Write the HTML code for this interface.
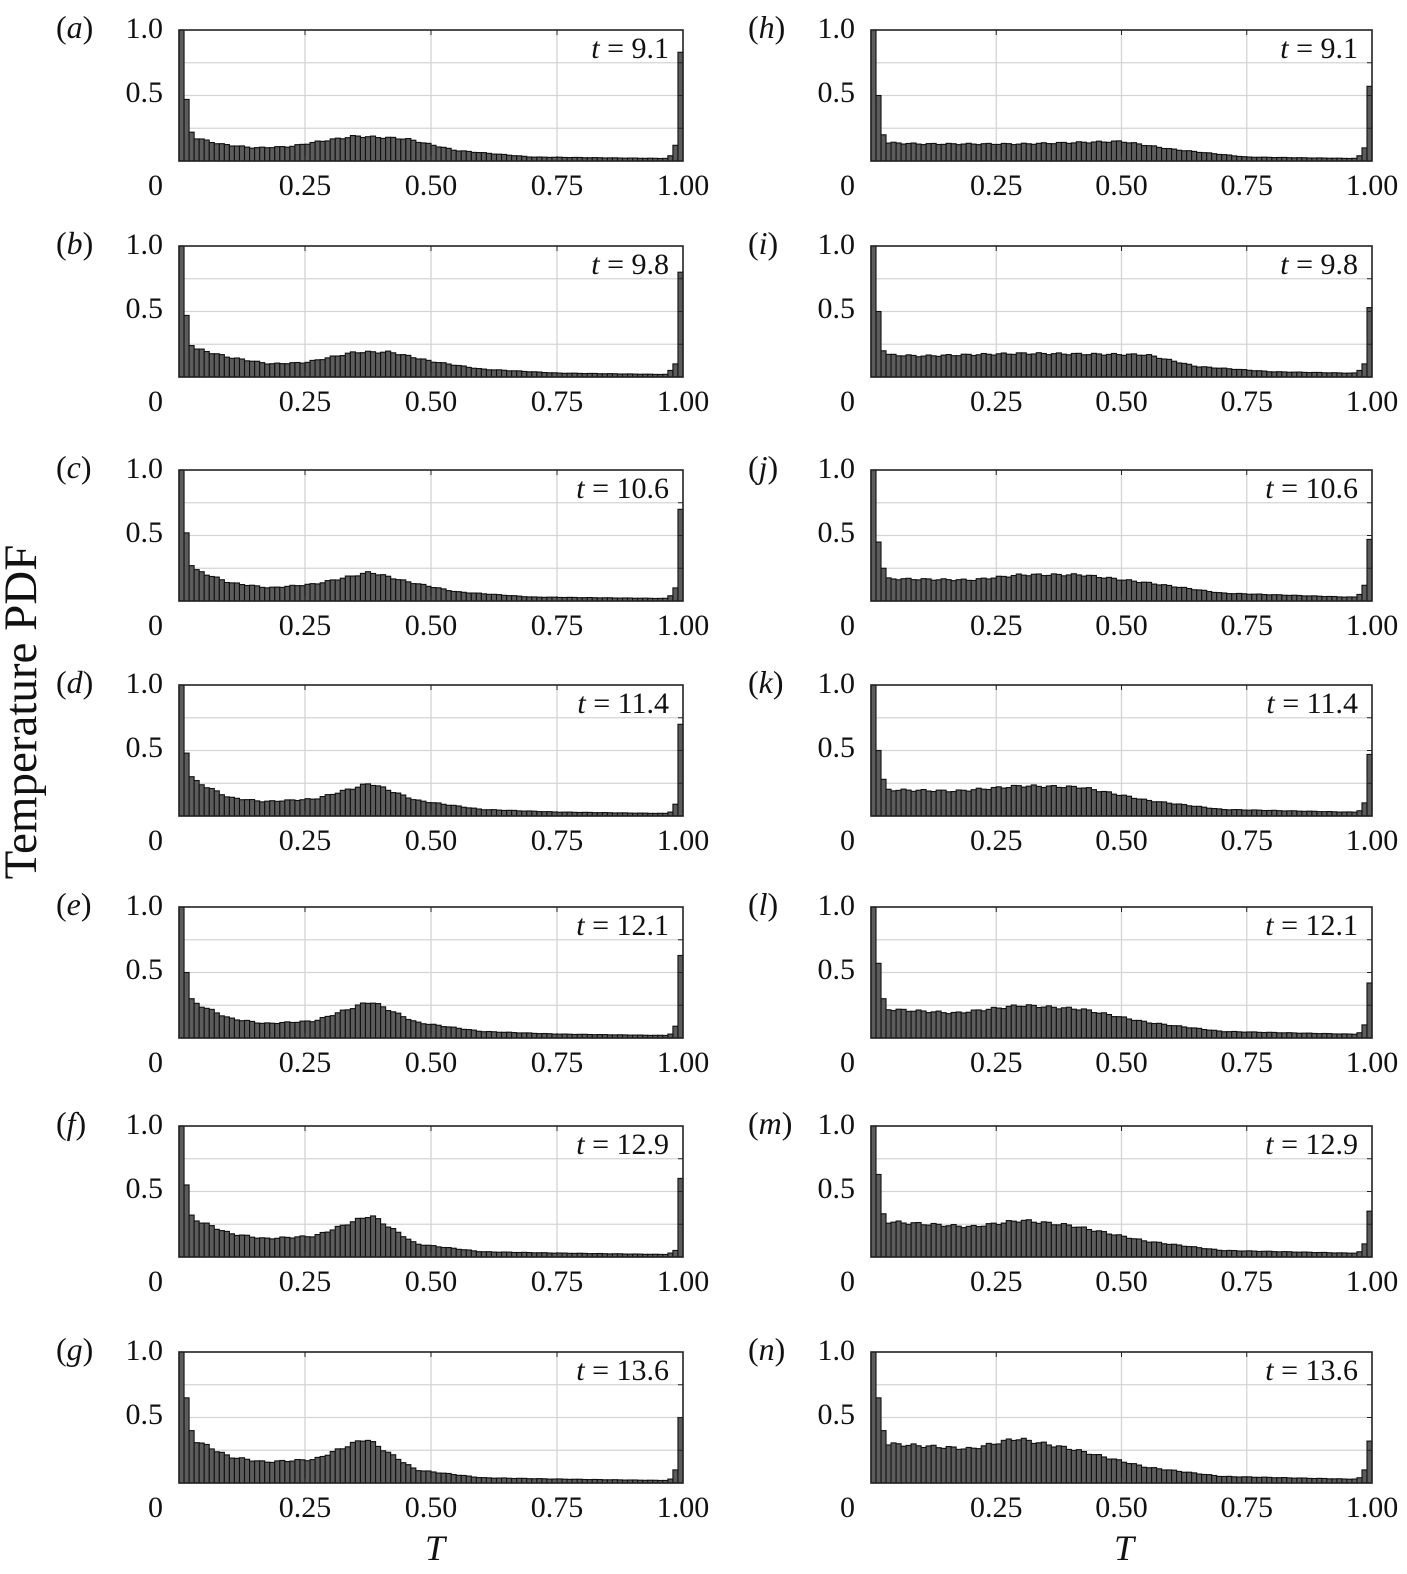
<!DOCTYPE html>
<html><head><meta charset="utf-8">
<style>
html,body{margin:0;padding:0;background:#fff;}
svg{display:block;font-family:"Liberation Serif","Times New Roman",serif;}
</style></head>
<body>
<svg id="s" width="1407" height="1574" xmlns="http://www.w3.org/2000/svg">
<text x="0" y="0" transform="translate(36,712) rotate(-90)" text-anchor="middle" font-size="47" fill="#111">Temperature PDF</text>
<text x="435" y="1560" text-anchor="middle" font-size="36" font-style="italic" fill="#111">T</text>
<text x="1124" y="1560" text-anchor="middle" font-size="36" font-style="italic" fill="#111">T</text>
</svg>
<script>
var P=[
{l:'a',t:'9.1',s:[1.0,0.47,0.22],p:[[0.03,0.18],[0.08,0.13],[0.15,0.1],[0.22,0.11],[0.28,0.15],[0.35,0.19],[0.45,0.17],[0.55,0.08],[0.7,0.03],[0.95,0.02],[1,0.02]],e:[0.04,0.12,0.83]},
{l:'b',t:'9.8',s:[1.0,0.47,0.24],p:[[0.03,0.22],[0.1,0.15],[0.18,0.1],[0.25,0.11],[0.35,0.19],[0.42,0.19],[0.5,0.12],[0.6,0.06],[0.75,0.03],[0.95,0.02],[1,0.02]],e:[0.05,0.1,0.8]},
{l:'c',t:'10.6',s:[1.0,0.52,0.27],p:[[0.03,0.24],[0.1,0.14],[0.18,0.1],[0.27,0.13],[0.38,0.22],[0.45,0.15],[0.55,0.07],[0.7,0.03],[0.95,0.02],[1,0.02]],e:[0.04,0.1,0.7]},
{l:'d',t:'11.4',s:[1.0,0.48,0.3],p:[[0.03,0.27],[0.1,0.14],[0.17,0.11],[0.27,0.13],[0.38,0.25],[0.47,0.12],[0.6,0.05],[0.75,0.03],[0.95,0.02],[1,0.02]],e:[0.03,0.09,0.7]},
{l:'e',t:'12.1',s:[1.0,0.5,0.3],p:[[0.03,0.27],[0.1,0.15],[0.17,0.11],[0.27,0.13],[0.38,0.28],[0.47,0.12],[0.6,0.05],[0.75,0.03],[0.95,0.02],[1,0.02]],e:[0.03,0.09,0.63]},
{l:'f',t:'12.9',s:[1.0,0.55,0.32],p:[[0.03,0.29],[0.1,0.18],[0.17,0.14],[0.27,0.16],[0.38,0.32],[0.47,0.1],[0.6,0.04],[0.75,0.03],[0.95,0.02],[1,0.02]],e:[0.03,0.05,0.6]},
{l:'g',t:'13.6',s:[1.0,0.65,0.4],p:[[0.03,0.33],[0.1,0.2],[0.17,0.16],[0.27,0.18],[0.37,0.34],[0.47,0.1],[0.6,0.04],[0.75,0.03],[0.95,0.02],[1,0.02]],e:[0.03,0.1,0.5]},
{l:'h',t:'9.1',s:[1.0,0.5,0.2],p:[[0.03,0.14],[0.1,0.13],[0.3,0.13],[0.5,0.15],[0.6,0.09],[0.75,0.03],[0.95,0.02],[1,0.02]],e:[0.04,0.1,0.57]},
{l:'i',t:'9.8',s:[1.0,0.5,0.2],p:[[0.03,0.17],[0.1,0.16],[0.3,0.18],[0.55,0.17],[0.65,0.08],[0.8,0.04],[0.95,0.03],[1,0.03]],e:[0.05,0.1,0.53]},
{l:'j',t:'10.6',s:[1.0,0.45,0.25],p:[[0.03,0.17],[0.2,0.16],[0.3,0.2],[0.42,0.2],[0.55,0.14],[0.7,0.06],[0.95,0.03],[1,0.03]],e:[0.05,0.12,0.47]},
{l:'k',t:'11.4',s:[1.0,0.5,0.28],p:[[0.03,0.2],[0.17,0.19],[0.3,0.23],[0.42,0.22],[0.55,0.12],[0.7,0.05],[0.95,0.03],[1,0.03]],e:[0.04,0.1,0.47]},
{l:'l',t:'12.1',s:[1.0,0.57,0.3],p:[[0.03,0.22],[0.17,0.19],[0.3,0.25],[0.42,0.22],[0.55,0.12],[0.7,0.05],[0.95,0.03],[1,0.03]],e:[0.04,0.1,0.42]},
{l:'m',t:'12.9',s:[1.0,0.63,0.33],p:[[0.03,0.27],[0.2,0.23],[0.3,0.28],[0.4,0.24],[0.55,0.12],[0.7,0.05],[0.95,0.03],[1,0.03]],e:[0.04,0.1,0.35]},
{l:'n',t:'13.6',s:[1.0,0.65,0.4],p:[[0.03,0.3],[0.2,0.26],[0.29,0.34],[0.4,0.26],[0.55,0.12],[0.7,0.05],[0.95,0.03],[1,0.03]],e:[0.04,0.1,0.32]}
];
var tops=[30,246,470,685,907,1126,1352],H=131;
var cols=[{x0:179,x1:683},{x0:871,x1:1372}];
function interp(p,T){if(T<=p[0][0])return p[0][1];for(var i=1;i<p.length;i++){if(T<=p[i][0]){var a=p[i-1],b=p[i];return a[1]+(b[1]-a[1])*(T-a[0])/(b[0]-a[0]);}}return p[p.length-1][1];}
var out='';
P.forEach(function(d,idx){
 var c=cols[idx<7?0:1],top=tops[idx%7],bot=top+H,W=c.x1-c.x0,x0=c.x0;
 var g='';
 [0.25,0.5,0.75].forEach(function(v){var y=bot-v*H;g+='<line x1="'+x0+'" x2="'+c.x1+'" y1="'+y+'" y2="'+y+'" stroke="#d4d4d4" stroke-width="1.3"/>';});
 [0.25,0.5,0.75].forEach(function(v){var x=x0+v*W;g+='<line x1="'+x+'" x2="'+x+'" y1="'+top+'" y2="'+bot+'" stroke="#d4d4d4" stroke-width="1.3"/>';});
 var N=100,bw=W/N;
 for(var i=0;i<N;i++){
  var v;
  if(i<3)v=d.s[i];else if(i>=97)v=d.e[i-97];else v=interp(d.p,(i+0.5)/N)*(1+0.04*Math.sin(i*1.7+idx));
  v=Math.min(v,1);
  var h=v*H;
  g+='<rect x="'+(x0+i*bw).toFixed(2)+'" y="'+(bot-h).toFixed(2)+'" width="'+bw.toFixed(2)+'" height="'+h.toFixed(2)+'" fill="#5c5c5c" stroke="#111" stroke-width="1.1"/>';
 }
 [0.25,0.5,0.75].forEach(function(v){var x=x0+v*W;g+='<line x1="'+x+'" x2="'+x+'" y1="'+bot+'" y2="'+(bot-5)+'" stroke="#222"/><line x1="'+x+'" x2="'+x+'" y1="'+top+'" y2="'+(top+5)+'" stroke="#222"/>';});
 [0.25,0.5,0.75].forEach(function(v){var y=bot-v*H;g+='<line x1="'+(c.x1-5)+'" x2="'+c.x1+'" y1="'+y+'" y2="'+y+'" stroke="#222"/>';});
 g+='<rect x="'+x0+'" y="'+top+'" width="'+W+'" height="'+H+'" fill="none" stroke="#222" stroke-width="1.6"/>';
 var fs=30;
 g+='<text x="'+(x0-16)+'" y="'+(top+8)+'" text-anchor="end" font-size="'+fs+'" fill="#111">1.0</text>';
 g+='<text x="'+(x0-16)+'" y="'+(top+72)+'" text-anchor="end" font-size="'+fs+'" fill="#111">0.5</text>';
 g+='<text x="'+(x0-16)+'" y="'+(bot+34)+'" text-anchor="end" font-size="'+fs+'" fill="#111">0</text>';
 ['0.25','0.50','0.75','1.00'].forEach(function(s,k){g+='<text x="'+(x0+(k+1)*0.25*W)+'" y="'+(bot+34)+'" text-anchor="middle" font-size="'+fs+'" fill="#111">'+s+'</text>';});
 g+='<text x="'+(c.x1-14)+'" y="'+(top+28)+'" text-anchor="end" font-size="'+fs+'" fill="#111"><tspan font-style="italic">t</tspan> = '+d.t+'</text>';
 g+='<text x="'+(x0-123)+'" y="'+(top+8)+'" font-size="32" fill="#111">(<tspan font-style="italic">'+d.l+'</tspan>)</text>';
 out+=g;
});
document.getElementById('s').insertAdjacentHTML('beforeend',out);
</script>
</body></html>
